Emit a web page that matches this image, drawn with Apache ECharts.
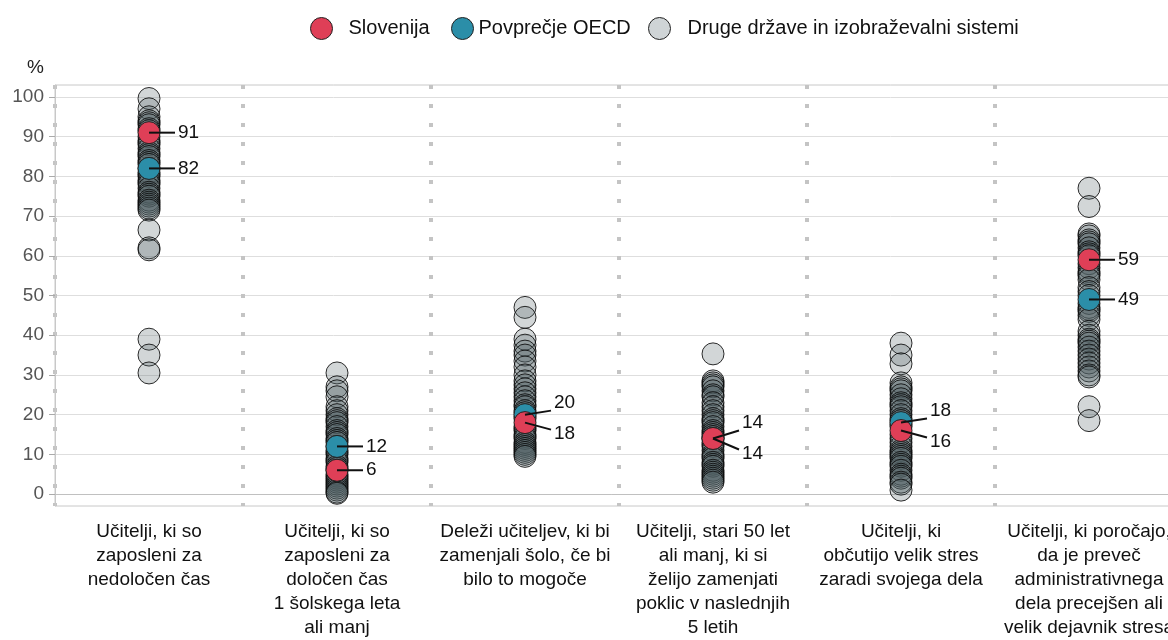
<!DOCTYPE html>
<html>
<head>
<meta charset="utf-8">
<script src="https://cdn.jsdelivr.net/npm/echarts@6/dist/echarts.min.js"></script>
<style>
html,body{margin:0;padding:0;background:#fff;}
#chart{width:1168px;height:640px;}
</style>
</head>
<body>
<div id="chart"></div>
<script>
const categories = [
  "Učitelji, ki so\nzaposleni za\nnedoločen čas",
  "Učitelji, ki so\nzaposleni za\ndoločen čas\n1 šolskega leta\nali manj",
  "Deleži učiteljev, ki bi\nzamenjali šolo, če bi\nbilo to mogoče",
  "Učitelji, stari 50 let\nali manj, ki si\nželijo zamenjati\npoklic v naslednjih\n5 letih",
  "Učitelji, ki\nobčutijo velik stres\nzaradi svojega dela",
  "Učitelji, ki poročajo,\nda je preveč\nadministrativnega\ndela precejšen ali\nvelik dejavnik stresa"
];
const seriesNames = ["Slovenija", "Povprečje OECD", "Druge države in izobraževalni sistemi"];
const sloValues = [91, 6, 18, 14, 16, 59];
const oecdValues = [82, 12, 20, 14, 18, 49];
const others1 = [99.6, 97, 95, 94, 93.5, 93, 92, 91.5, 90, 89, 88.5, 88, 87, 86, 85.5, 85, 84, 83.5, 83, 82, 81, 80.5, 80, 79, 78.5, 78, 77, 76, 75.5, 75, 74, 73.5, 73, 72.5, 72, 71.5, 66.5, 62, 61.5, 39, 35, 30.5];
const others2 = [30.5, 27, 26, 24.5, 22, 21, 20, 19, 18.5, 18, 17, 16, 15.5, 15, 14, 13.5, 13, 12, 11, 10.5, 10, 9, 8.5, 8, 7, 6.5, 6, 5, 4.5, 4, 3.5, 3, 2.5, 2, 1.5, 1, 0.5, 0.2];
const others3 = [47, 44.5, 39, 37.5, 36, 35, 33.5, 32, 30, 28.5, 27.5, 26.5, 25.5, 24.5, 23.5, 22.5, 22, 21, 20.5, 19.5, 19, 17, 16.5, 16, 15, 14.5, 14, 13, 12.5, 12, 11.5, 11, 10.5, 10, 9.5];
const others4 = [35.3, 28.5, 28, 27.5, 27, 26, 25, 24.5, 23, 22, 21, 20, 19, 18.5, 18, 17, 16, 15.5, 15, 14.5, 14, 13, 12.5, 12, 11, 10, 9.5, 9, 8, 7.5, 7, 6, 5.5, 5, 4.5, 4, 3.5, 3];
const others5 = [38, 35, 32.8, 28, 27, 26.5, 26, 25, 24, 23, 22.5, 22, 21, 20, 19, 18.5, 17.5, 17, 15, 14, 13, 12, 11, 10.5, 10, 9.5, 9, 8, 7.5, 7, 6, 5, 4.5, 4, 3, 2.5, 1];
const others6 = [77, 72.4, 65.5, 65, 64, 63.5, 63, 62, 61, 60.5, 60, 58, 57, 56, 55.5, 55, 54, 52, 51, 50, 48, 47, 46.5, 46, 45, 44, 41, 40, 39, 38.5, 38, 37, 36, 35, 34, 33, 32, 31, 30, 29.5, 22, 18.5];
const otherValues = [others1, others2, others3, others4, others5, others6];
const yTickValues = [0, 10, 20, 30, 40, 50, 60, 70, 80, 90, 100];

const RED = '#df3f57', TEAL = '#2b8ea8';
const FONT = 'Liberation Sans, Arial, sans-serif';

const grayData = [];
otherValues.forEach((arr, i) => arr.forEach(v => grayData.push([i, v])));
const sloData = sloValues.map((v, i) => [i, v]);
const oecdData = oecdValues.map((v, i) => [i, v]);
// label data: [category, value, other value, isOecd]
const labelData = [];
sloValues.forEach((v, i) => labelData.push([i, v, oecdValues[i], 0]));
oecdValues.forEach((v, i) => labelData.push([i, v, sloValues[i], 1]));

function legendAt(left, name, color, pad) {
  return {
    left: left, top: 12, itemWidth: 22, itemHeight: 22, icon: 'circle',
    textStyle: {fontSize: 20, color: '#111', padding: [0, 0, 0, pad], fontFamily: FONT},
    data: [{name: name, itemStyle: {color: color, borderColor: '#222', borderWidth: 1, opacity: 1}}]
  };
}

const chart = echarts.init(document.getElementById('chart'), null, {renderer: 'canvas'});
chart.setOption({
  animation: false,
  textStyle: {fontFamily: FONT},
  grid: {left: 55, top: 85, width: 1128, height: 421, show: true, borderColor: '#c8c8c8', borderWidth: 1, outerBoundsMode: 'none', containLabel: false},
  legend: [
    legendAt(305, seriesNames[0], RED, 11),
    legendAt(446, seriesNames[1], TEAL, 0),
    legendAt(643, seriesNames[2], '#cfd4d6', 12)
  ],
  graphic: [{type: 'text', left: 27, top: 58, style: {text: '%', fontSize: 19, fill: '#222', fontFamily: FONT}}],
  xAxis: {
    type: 'category', data: categories, boundaryGap: true,
    axisLine: {show: true, lineStyle: {color: '#c0c0c0', width: 1}},
    axisTick: {show: false},
    axisLabel: {interval: 0, fontSize: 19, lineHeight: 24, color: '#111', margin: 14},
    splitLine: {show: true, interval: 0, lineStyle: {color: '#c4c4c4', width: 4, type: [4, 15]}}
  },
  yAxis: {
    type: 'value', min: -3, max: 103,
    axisLine: {show: true, lineStyle: {color: '#c8c8c8'}},
    axisTick: {show: true, length: 6, lineStyle: {color: '#aaa'}, customValues: yTickValues},
    axisLabel: {fontSize: 19, color: '#555', margin: 11, customValues: yTickValues},
    splitLine: {show: true, lineStyle: {color: '#dedede', width: 1}}
  },
  series: [
    {
      name: seriesNames[2], type: 'scatter', data: grayData, symbolSize: 22, z: 2,
      itemStyle: {color: 'rgba(75,90,95,0.25)', borderColor: 'rgba(10,10,10,0.85)', borderWidth: 1, opacity: 1}
    },
    {
      name: seriesNames[1], type: 'scatter', data: oecdData, symbolSize: 22, z: 3,
      itemStyle: {color: TEAL, borderColor: '#222', borderWidth: 1, opacity: 1}
    },
    {
      name: seriesNames[0], type: 'scatter', data: sloData, symbolSize: 22, z: 4,
      itemStyle: {color: RED, borderColor: '#222', borderWidth: 1, opacity: 1}
    },
    {
      type: 'custom', data: labelData, z: 5, silent: true,
      encode: {x: 0, y: 1},
      renderItem: function (params, api) {
        const i = api.value(0), v = api.value(1), o = api.value(2), isOecd = api.value(3);
        const p = api.coord([i, v]);
        const cx = p[0], cy = p[1];
        let ty = cy, ey = cy;
        if (Math.abs(v - o) < 5) {
          const po = api.coord([i, o]);
          const mid = (cy + po[1]) / 2;
          const upper = v > o || (v === o && isOecd === 1);
          if (upper) { ty = mid - 16; ey = ty + 8; }
          else { ty = mid + 15; ey = ty - 4; }
        }
        return {
          type: 'group',
          children: [
            {type: 'line', shape: {x1: cx, y1: cy, x2: cx + 26, y2: ey}, style: {stroke: '#111', lineWidth: 2}},
            {type: 'text', style: {text: String(v), x: cx + 29, y: ty, verticalAlign: 'middle', align: 'left', fontSize: 19, fill: '#111', fontFamily: FONT}}
          ]
        };
      }
    }
  ]
});
</script>
</body>
</html>
